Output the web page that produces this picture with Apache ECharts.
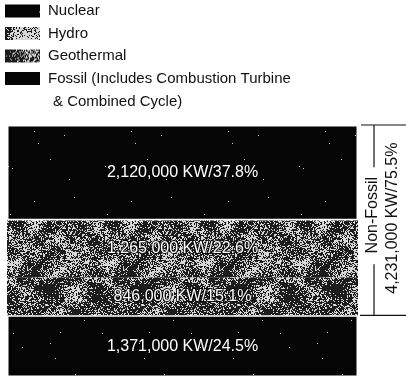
<!DOCTYPE html>
<html>
<head>
<meta charset="utf-8">
<script src="https://cdn.jsdelivr.net/npm/echarts@6/dist/echarts.min.js"></script>
<style>
  html, body { margin: 0; padding: 0; background: #fff; }
  #chart { width: 406px; height: 378px; }
</style>
</head>
<body>
<div id="chart"></div>
<script>
// Generating capacity by source (kilowatts and share of total)
const categories = ['Capacity'];
const legendNames = ['Nuclear', 'Hydro', 'Geothermal', 'Fossil'];
const nuclearKW = [2120000];
const hydroKW = [1265000];
const geothermalKW = [846000];
const fossilKW = [1371000];
const nuclearPct = [37.8];
const hydroPct = [22.6];
const geothermalPct = [15.1];
const fossilPct = [24.5];
const nonFossilKW = [4231000];
const nonFossilPct = [75.5];
const fossilNote = '& Combined Cycle)';

// Deterministic pseudo-random generator for the print-grain textures
function makeRng(seed) {
  let s = seed >>> 0;
  return function () {
    s = (s * 1664525 + 1013904223) >>> 0;
    return s / 4294967296;
  };
}

// Blotchy speckle tile: smooth low-frequency field plus per-pixel noise
function grainTile(seed, pWhite, size) {
  const c = document.createElement('canvas');
  c.width = size; c.height = size;
  const ctx = c.getContext('2d');
  const img = ctx.createImageData(size, size);
  const rnd = makeRng(seed);
  const cs = 12;
  const n = size / cs;
  const grid = [];
  for (let i = 0; i < n * n; i++) grid.push(rnd() - 0.5);
  const at = (gx, gy) => grid[((gy % n + n) % n) * n + ((gx % n + n) % n)];
  for (let y = 0; y < size; y++) {
    for (let x = 0; x < size; x++) {
      const fx = x / cs, fy = y / cs;
      const x0 = Math.floor(fx), y0 = Math.floor(fy);
      const tx = fx - x0, ty = fy - y0;
      const a = at(x0, y0) * (1 - tx) + at(x0 + 1, y0) * tx;
      const b = at(x0, y0 + 1) * (1 - tx) + at(x0 + 1, y0 + 1) * tx;
      const field = a * (1 - ty) + b * ty;
      const on = rnd() < pWhite + field * 0.9;
      const k = (y * size + x) * 4;
      const g = on ? 215 : 28;
      img.data[k] = g; img.data[k + 1] = g; img.data[k + 2] = g; img.data[k + 3] = 255;
    }
  }
  ctx.putImageData(img, 0, 0);
  return c;
}

// Solid black with a few stray white flecks
function flecksTile(seed, size, count) {
  const c = document.createElement('canvas');
  c.width = size; c.height = size;
  const ctx = c.getContext('2d');
  ctx.fillStyle = '#050505';
  ctx.fillRect(0, 0, size, size);
  const rnd = makeRng(seed);
  ctx.fillStyle = '#d0d0d0';
  for (let i = 0; i < count; i++) {
    ctx.fillRect(Math.floor(rnd() * size), Math.floor(rnd() * size), 1, 1);
  }
  return c;
}

const nuclearFill = { image: flecksTile(11, 97, 12), repeat: 'repeat' };
const fossilFill = { image: flecksTile(29, 89, 12), repeat: 'repeat' };
const hydroFill = { image: grainTile(7, 0.42, 96), repeat: 'repeat' };
const geoFill = { image: grainTile(13, 0.36, 96), repeat: 'repeat' };

const fmt = n => n.toLocaleString('en-US');
const total = nuclearKW[0] + hydroKW[0] + geothermalKW[0] + fossilKW[0];

const labelFont = 'Liberation Sans, Arial, Helvetica, sans-serif';

function seg(name, values, pcts, fill, grainy) {
  return {
    name: name,
    type: 'bar',
    stack: 'capacity',
    barWidth: '100%',
    data: values,
    itemStyle: {
      color: fill,
      borderColor: grainy ? 'transparent' : '#fff',
      borderWidth: grainy ? 0 : 1.5
    },
    label: {
      show: true,
      position: 'inside',
      color: '#fff',
      fontFamily: labelFont,
      fontSize: 16,
      textBorderColor: grainy ? 'rgba(0,0,0,0.85)' : 'transparent',
      textBorderWidth: grainy ? 2 : 0,
      formatter: p => fmt(p.value) + ' KW/' + pcts[p.dataIndex] + '%'
    },
    emphasis: { disabled: true }
  };
}

const chart = echarts.init(document.getElementById('chart'), null, { renderer: 'canvas' });

chart.setOption({
  animation: false,
  backgroundColor: '#fff',
  grid: { left: 7, right: 48, top: 125, bottom: 1 },
  legend: {
    data: legendNames,
    orient: 'vertical',
    left: 5,
    top: 3.5,
    padding: 0,
    icon: 'rect',
    itemWidth: 35,
    itemHeight: 13,
    itemGap: 7.5,
    selectedMode: false,
    itemStyle: { borderWidth: 0 },
    textStyle: {
      color: '#111',
      fontFamily: labelFont,
      fontSize: 15,
      lineHeight: 15,
      padding: [0, 0, 0, 3]
    },
    formatter: n => n === 'Fossil' ? 'Fossil (Includes Combustion Turbine' : n
  },
  xAxis: { type: 'category', data: categories, show: false },
  yAxis: { type: 'value', min: 0, max: total, show: false },
  series: [
    seg('Fossil', fossilKW, fossilPct, fossilFill, false),
    seg('Geothermal', geothermalKW, geothermalPct, geoFill, true),
    seg('Hydro', hydroKW, hydroPct, hydroFill, true),
    seg('Nuclear', nuclearKW, nuclearPct, nuclearFill, false)
  ]
});

// Bracket spanning the non-fossil segments, placed from the axis scale
const yTop = chart.convertToPixel({ yAxisIndex: 0 }, total);
const yBot = chart.convertToPixel({ yAxisIndex: 0 }, fossilKW[0]);
const xRight = chart.convertToPixel({ xAxisIndex: 0 }, 0) + (406 - 7 - 48) / 2;
const xLine = xRight + 16;
const mid = (yTop + yBot) / 2;
const nfHalf = 40;

chart.setOption({
  graphic: [
    { type: 'line', shape: { x1: xRight + 3, y1: yTop, x2: 406, y2: yTop }, style: { stroke: '#111', lineWidth: 1.2 } },
    { type: 'line', shape: { x1: xRight + 2, y1: yBot, x2: 406, y2: yBot }, style: { stroke: '#111', lineWidth: 1.2 } },
    { type: 'line', shape: { x1: xLine, y1: yTop, x2: xLine, y2: mid - nfHalf - 13 }, style: { stroke: '#111', lineWidth: 1.2 } },
    { type: 'line', shape: { x1: xLine, y1: mid + nfHalf + 4, x2: xLine, y2: yBot }, style: { stroke: '#111', lineWidth: 1.2 } },
    {
      type: 'text', x: xLine - 1, y: mid - 5, rotation: Math.PI / 2,
      style: { text: 'Non-Fossil', fill: '#111', font: '16px ' + labelFont, align: 'center', verticalAlign: 'middle' }
    },
    {
      type: 'text', x: xLine + 19, y: mid - 2, rotation: Math.PI / 2,
      style: { text: fmt(nonFossilKW[0]) + ' KW/' + nonFossilPct[0] + '%', fill: '#111', font: '16px ' + labelFont, align: 'center', verticalAlign: 'middle' }
    },
    {
      type: 'text', left: 53, top: 94,
      style: { text: fossilNote, fill: '#111', font: '15px ' + labelFont }
    }
  ]
});
</script>
</body>
</html>
